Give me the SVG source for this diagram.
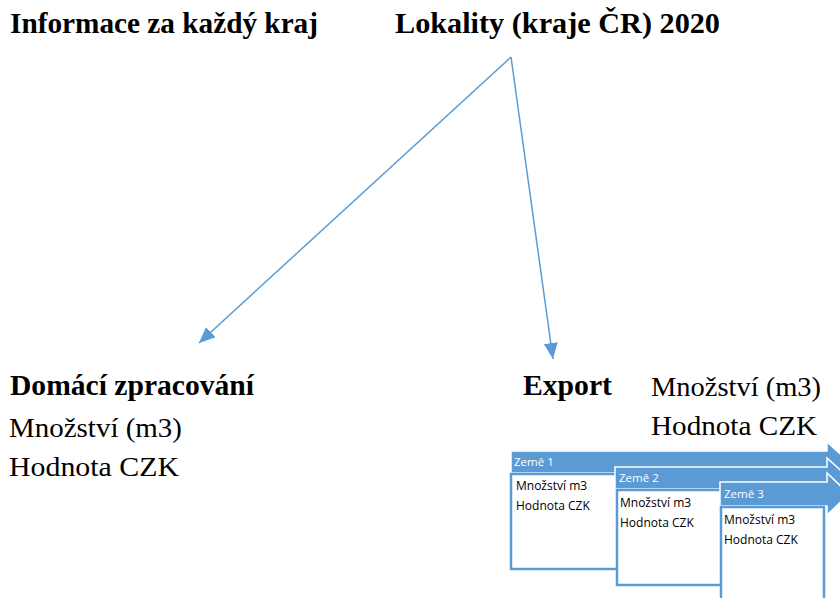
<svg xmlns="http://www.w3.org/2000/svg" width="840" height="598" viewBox="0 0 840 598">
<style>
.title{font-family:"Liberation Serif","Times New Roman",serif;font-weight:bold;font-size:30px;fill:#000}
.reg{font-family:"Liberation Serif","Times New Roman",serif;font-size:28px;fill:#000}
.bar{fill:#5B9BD5;stroke:#fff;stroke-width:1.5}
.box{fill:#fff;stroke:#5B9BD5;stroke-width:2.5}
.bt{font-family:"Open Sans","Liberation Sans",sans-serif;font-size:11.5px;fill:#fff}
.kt{font-family:"Open Sans","Liberation Sans",sans-serif;font-size:12px;fill:#000}
.conn{stroke:#5B9BD5;stroke-width:1.5;fill:none}
</style>
<defs>
<marker id="ah" markerUnits="userSpaceOnUse" markerWidth="18" markerHeight="16" refX="16" refY="7" orient="auto">
<path d="M0,0 L16,7 L0,14 z" fill="#5B9BD5"/>
</marker>
</defs>
<rect width="840" height="598" fill="#fff"/>
<g id="title-left"><text class="title" x="10" y="33" textLength="308" lengthAdjust="spacingAndGlyphs">Informace za každý kraj</text></g>
<g id="title-right"><text class="title" x="395" y="33" textLength="325" lengthAdjust="spacingAndGlyphs">Lokality (kraje ČR) 2020</text></g>
<g id="connectors">
<line class="conn" x1="511" y1="57" x2="199" y2="343" marker-end="url(#ah)"/>
<line class="conn" x1="511" y1="57" x2="553" y2="359" marker-end="url(#ah)"/>
</g>
<g id="domaci">
<text class="title" x="10" y="395" textLength="244" lengthAdjust="spacingAndGlyphs">Domácí zpracování</text>
<text class="reg" x="9" y="437" textLength="173" lengthAdjust="spacingAndGlyphs">Množství (m3)</text>
<text class="reg" x="9" y="476" textLength="170" lengthAdjust="spacingAndGlyphs">Hodnota CZK</text>
</g>
<g id="export">
<text class="title" x="523" y="395" textLength="89" lengthAdjust="spacingAndGlyphs">Export</text>
<text class="reg" x="651" y="396" textLength="170" lengthAdjust="spacingAndGlyphs">Množství (m3)</text>
<text class="reg" x="651" y="435" textLength="166" lengthAdjust="spacingAndGlyphs">Hodnota CZK</text>
</g>
<g id="zeme1">
<path class="bar" d="M511,451 H827 V442 L849,462 L827,482 V473 H511 Z"/>
<text class="bt" x="514" y="466">Země 1</text>
<rect class="box" x="511" y="474" width="110" height="95"/>
<text class="kt" x="516" y="490">Množství m3</text>
<text class="kt" x="516" y="510">Hodnota CZK</text>
</g>
<g id="zeme2">
<path class="bar" d="M615,467 H827 V458 L849,478 L827,498 V489 H615 Z"/>
<text class="bt" x="619" y="482">Země 2</text>
<rect class="box" x="617" y="490" width="108" height="95"/>
<text class="kt" x="620" y="507">Množství m3</text>
<text class="kt" x="620" y="527">Hodnota CZK</text>
</g>
<g id="zeme3">
<path class="bar" d="M720,482 H827 V473 L849,494 L827,515 V506 H720 Z"/>
<text class="bt" x="724" y="498">Země 3</text>
<rect class="box" x="721" y="507" width="103" height="100"/>
<text class="kt" x="724" y="524">Množství m3</text>
<text class="kt" x="724" y="544">Hodnota CZK</text>
</g>
</svg>
